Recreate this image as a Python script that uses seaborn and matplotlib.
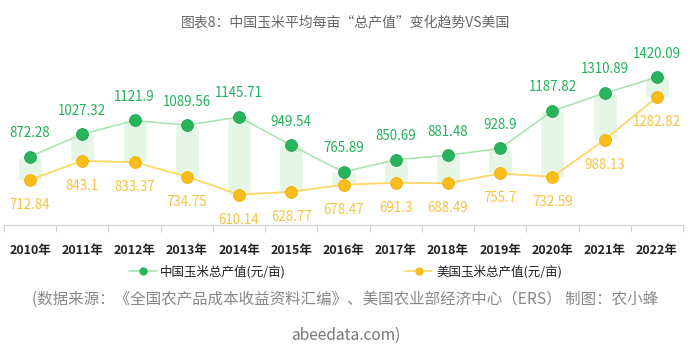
import matplotlib
matplotlib.use('Agg')
import numpy as np
import pandas as pd
import seaborn as sns
import matplotlib.pyplot as plt
from matplotlib.lines import Line2D

## data
years = ['2010年', '2011年', '2012年', '2013年', '2014年', '2015年', '2016年',
         '2017年', '2018年', '2019年', '2020年', '2021年', '2022年']
china = [872.28, 1027.32, 1121.9, 1089.56, 1145.71, 949.54, 765.89,
         850.69, 881.48, 928.9, 1187.82, 1310.89, 1420.09]
usa = [712.84, 843.1, 833.37, 734.75, 610.14, 628.77, 678.47,
       691.3, 688.49, 755.7, 732.59, 988.13, 1282.82]
cn_name = '中国玉米总产值(元/亩)'
us_name = '美国玉米总产值(元/亩)'

title = '图表8：中国玉米平均每亩“总产值”变化趋势VS美国'
source1 = '(数据来源：《全国农产品成本收益资料汇编》、美国农业部经济中心（ERS） 制图：农小蜂'
source2 = 'abeedata.com)'

################################################
sns.set_theme(style='white')
plt.rcParams['font.family'] = ['Noto Sans CJK SC', 'DejaVu Sans']

green_dk = '#28b45c'
green_ln = '#a6e3ad'
yell_dk = '#fbbd1c'
yell_ln = '#ffd766'
lab_green = '#22b05a'
lab_yell = '#f7c23e'

fig = plt.figure(figsize=(6.91, 3.51), dpi=100)
ax = fig.add_axes([4/691, 1-225/351, 679/691, (225-57)/351])

df = pd.DataFrame({'year': years, 'cn': china, 'us': usa})

## shaded gap bars between US and China values
ax.bar(df['year'], df['cn'] - df['us'], bottom=df['us'], width=0.46,
       color='#e5f6e7', zorder=1)

sns.lineplot(data=df, x='year', y='cn', ax=ax, color=green_ln, lw=1.1,
             marker='o', markersize=8.5, markerfacecolor=green_dk,
             markeredgecolor='#1f9e4e', markeredgewidth=0.6, zorder=3)
sns.lineplot(data=df, x='year', y='us', ax=ax, color=yell_ln, lw=1.3,
             marker='o', markersize=8.5, markerfacecolor=yell_dk,
             markeredgecolor='#f2ae00', markeredgewidth=0.6, zorder=3)

for i, (c, u) in enumerate(zip(china, usa)):
  ax.annotate(str(c), (i, c), xytext=(0, 17), textcoords='offset points',
              ha='center', va='center', fontsize=9.6, color=lab_green,
              fontweight='medium')
  ax.annotate(str(u), (i, u), xytext=(0, -18), textcoords='offset points',
              ha='center', va='center', fontsize=9.6, color=lab_yell,
              fontweight='medium')

ax.set_xlim(-0.5, len(years) - 0.5)
ax.set_ylim(400, 1560)
ax.set_xlabel('')
ax.set_ylabel('')
ax.set_yticks([])
ax.set_xticks(range(len(years)))
ax.set_xticklabels(years, fontsize=9, fontweight='bold', color='#222222')
ax.set_xticks(np.arange(-0.5, len(years)), minor=True)
ax.tick_params(axis='x', which='major', length=0, pad=14)
ax.tick_params(axis='x', which='minor', length=5, color='#d0d0d0', width=0.8,
               bottom=True)
for s in ['top', 'left', 'right']:
  ax.spines[s].set_visible(False)
ax.spines['bottom'].set_color('#d0d0d0')
ax.spines['bottom'].set_linewidth(0.8)
ax.grid(False)

## legend
h1 = Line2D([], [], color=green_ln, lw=1.2, marker='o', markersize=5,
            markerfacecolor=green_dk, markeredgecolor=green_dk)
h2 = Line2D([], [], color=yell_ln, lw=1.2, marker='o', markersize=5,
            markerfacecolor=yell_dk, markeredgecolor=yell_dk)
fig.legend([h1, h2], [cn_name, us_name], loc='center',
           bbox_to_anchor=(0.5, 1-272/351), ncol=2, frameon=False,
           fontsize=9, columnspacing=9.5, handlelength=2.2, handletextpad=0.3,
           labelcolor='#222222')

fig.text(0.5, 1-22/351, title, ha='center', va='center', fontsize=10,
         color='#666666')
fig.text(0.5, 1-299/351, source1, ha='center', va='center', fontsize=11.2,
         color='#888888')
fig.text(0.5, 1-335/351, source2, ha='center', va='center', fontsize=11.2,
         color='#777777')

fig.savefig('out.png', dpi=100, facecolor='white')
